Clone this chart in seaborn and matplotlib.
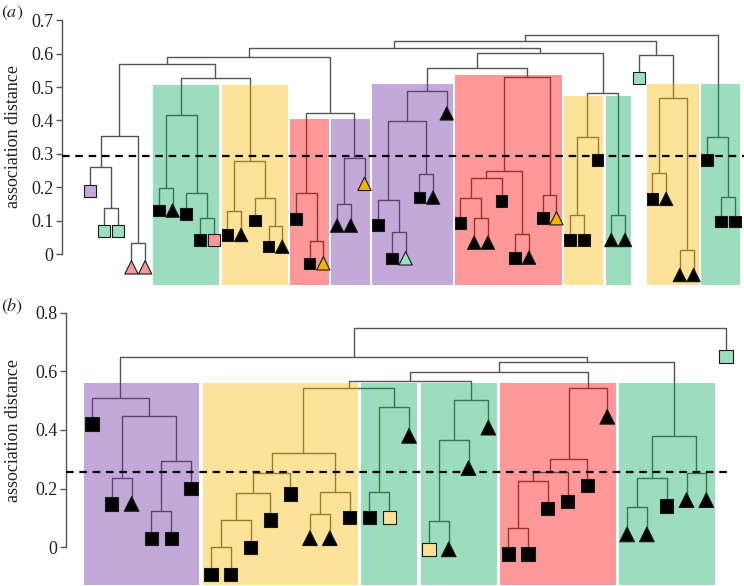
import numpy as np
import pandas as pd
import matplotlib
matplotlib.use("Agg")
import matplotlib.pyplot as plt
from matplotlib.collections import LineCollection
from matplotlib.patches import Rectangle
import seaborn as sns

# ---- panel (a) ----
# hclust-style merge table: negative = leaf number (display order), positive = earlier row
merge_a = [(-2, -3), (-1, 1), (-4, -5), (2, 3), (-6, -7), (-9, -10), (-8, 6), (5, 7),
           (-11, -12), (-14, -15), (-13, 10), (9, 11), (8, 12), (4, 13), (-17, -18),
           (-16, 15), (-19, -20), (17, -21), (16, 18), (14, 19), (-23, -24), (-22, 21),
           (-25, -26), (22, 23), (24, -27), (-29, -30), (-28, 26), (27, -31), (-32, -33),
           (28, 29), (-34, -35), (30, 31), (25, 32), (-36, -37), (34, -38), (-39, -40),
           (35, 36), (33, 37), (20, 38), (-42, -43), (-44, -45), (40, 41), (-41, 42),
           (39, 43), (-47, -48), (-46, 45), (44, 46)]
height_a = [0.137, 0.261, 0.032, 0.353, 0.197, 0.109, 0.182, 0.416,
            0.129, 0.085, 0.169, 0.278, 0.526, 0.568, 0.040,
            0.182, 0.149, 0.286, 0.421, 0.591, 0.065, 0.162,
            0.240, 0.399, 0.489, 0.107, 0.169, 0.229, 0.060,
            0.249, 0.177, 0.531, 0.556, 0.117, 0.349, 0.117,
            0.483, 0.603, 0.616, 0.243, 0.012, 0.468, 0.596,
            0.638, 0.172, 0.351, 0.656]
leaf_y_a = [0.189, 0.069, 0.069, -0.04, -0.04, 0.13, 0.13, 0.12, 0.042, 0.042,
            0.057, 0.057, 0.10, 0.022, 0.022, 0.104, -0.028, -0.028, 0.085, 0.085,
            0.21, 0.087, -0.013, -0.013, 0.169, 0.169, 0.421, 0.092, 0.034, 0.034,
            0.159, -0.011, -0.011, 0.107, 0.107, 0.042, 0.042, 0.281, 0.042, 0.042,
            0.526, 0.165, 0.165, -0.063, -0.063, 0.281, 0.097, 0.097]
shape_a = list("sss^^" "s^sss" "s^ss^" "ss^^^" "^ss^s" "^^s^^" "ss^s^" "sss^^" "ss^^^" "sss")
col_a = list("pggrr" "kkkkr" "kkkkk" "kkokk" "okkgk" "kkkkk" "kkkko" "kkkkk" "gkkkk" "kkk")
# clusters: first leaf, last leaf, top, colour
clusters_a = [(6, 10, 0.506, "g"), (11, 15, 0.506, "y"), (16, 18, 0.404, "r"),
              (19, 21, 0.404, "p"), (22, 27, 0.509, "p"), (28, 35, 0.535, "r"),
              (36, 38, 0.472, "y"), (39, 40, 0.472, "g"), (42, 45, 0.508, "y"),
              (46, 48, 0.508, "g")]
cut_a = 0.293

# ---- panel (b) ----
merge_b = [(-2, -3), (-4, -5), (2, -6), (1, 3), (-1, 4), (-7, -8), (6, -9), (7, -10),
           (8, -11), (-12, -13), (10, -14), (9, 11), (-15, -16), (13, -17), (12, 14),
           (-18, -19), (16, -20), (17, -21), (15, 18), (-22, -23), (20, -24), (21, -25),
           (22, -26), (23, -27), (19, 24), (-28, -29), (26, -30), (-31, -32), (27, 28),
           (25, 29), (5, 30), (31, -33)]
height_b = [0.2375, 0.125, 0.295, 0.449, 0.510, 0.0, 0.093, 0.184,
            0.255, 0.114, 0.189, 0.323, 0.190, 0.480, 0.542,
            0.090, 0.366, 0.502, 0.568, 0.067, 0.227, 0.258,
            0.300, 0.542, 0.599, 0.139, 0.2375, 0.255, 0.380,
            0.633, 0.650, 0.749]
leaf_y_b = [0.42, 0.148, 0.148, 0.03, 0.03, 0.2, -0.092, -0.092, 0.0, 0.093,
            0.182, 0.031, 0.031, 0.102, 0.101, 0.101, 0.38, -0.007, -0.007, 0.27,
            0.408, -0.023, -0.023, 0.132, 0.156, 0.21, 0.445, 0.044, 0.044, 0.141,
            0.161, 0.161, 0.65]
shape_b = list("ss^ss" "sssss" "s^^ss" "s^s^^" "^ssss" "s^^^s" "^^s")
col_b = list("kkkkk" "kkkkk" "kkkkk" "ykykk" "kkkkk" "kkkkk" "kkg")
clusters_b = [(1, 6, 0.559, "p"), (7, 14, 0.559, "y"), (15, 17, 0.559, "g"),
              (18, 21, 0.559, "g"), (22, 27, 0.559, "r"), (28, 32, 0.559, "g")]
cut_b = 0.258

# marker fills and cluster tints (tints drawn with alpha over the grey tree)
marker_col = {"k": "black", "p": "#c4aad9", "g": "#9cdfbd", "r": "#f59a9a",
              "o": "#f0b400", "y": "#fde396"}
rect_col = {"g": "#05ac5c", "y": "#fcbb00", "r": "#ff0000", "p": "#6b2aa2"}


def tree_segments(merge, heights, leaf_y):
    node_x = []
    segs = []

    def pos(ref):
        if ref < 0:
            return -ref, leaf_y[-ref - 1]
        return node_x[ref - 1], heights[ref - 1]

    for (a, b), h in zip(merge, heights):
        xa, ya = pos(a)
        xb, yb = pos(b)
        segs.append([(xa, ya), (xa, h), (xb, h), (xb, yb)])
        node_x.append((xa + xb) / 2)
    return segs


def draw_panel(ax, merge, heights, leaf_y, shapes, cols, clusters, cut, ybot,
               cut_end, sq_size, tri_size):
    lc = LineCollection(tree_segments(merge, heights, leaf_y), colors="#555555",
                        linewidths=1.0, zorder=1)
    ax.add_collection(lc)

    for first, last, top, c in clusters:
        ax.add_patch(Rectangle((first - 0.42, ybot), last - first + 0.84, top - ybot,
                               facecolor=rect_col[c], alpha=0.4, lw=0, zorder=2))

    ax.hlines(cut, ax.get_xlim()[0], cut_end, colors="black", linewidth=1.6,
              linestyles=(0, (3.4, 2.6)), zorder=3)

    df = pd.DataFrame({"x": np.arange(1, len(leaf_y) + 1), "y": leaf_y,
                       "shape": shapes, "col": cols})
    for shp, size in (("s", sq_size), ("^", tri_size)):
        sub = df[df["shape"] == shp]
        sns.scatterplot(data=sub, x="x", y="y", hue="col", palette=marker_col,
                        marker=shp, s=size ** 2, edgecolor="#1a1a1a", linewidth=0.8,
                        legend=False, ax=ax, zorder=4)
    ax.set_xlabel("")
    ax.set_ylabel("")


sns.set_theme(style="ticks")
plt.rcParams["font.family"] = ["Liberation Serif", "DejaVu Serif"]
plt.rcParams["mathtext.fontset"] = "stix"

fig = plt.figure(figsize=(7.44, 5.86), dpi=100)

# panel (a) axes: leaf spacing 13.71 px, first leaf at 90.3 px
ax_a = fig.add_axes([62 / 744, 1 - 286 / 586, 682 / 744, 286 / 586])
ax_a.set_xlim(-1.064, 48.68)
ax_a.set_ylim(-0.0958, 0.7605)
draw_panel(ax_a, merge_a, height_a, leaf_y_a, shape_a, col_a, clusters_a, cut_a,
           -0.093, 48.68, 8.4, 9.6)
ax_a.set_yticks([0, 0.1, 0.2, 0.3, 0.4, 0.5, 0.6, 0.7])
ax_a.set_yticklabels(["0", "0.1", "0.2", "0.3", "0.4", "0.5", "0.6", "0.7"])
ax_a.spines["left"].set_bounds(0, 0.7)

# panel (b) axes: leaf spacing 19.82 px, first leaf at 92 px
ax_b = fig.add_axes([65.7 / 744, 0, 678.3 / 744, 288 / 586])
ax_b.set_xlim(-0.327, 33.9)
ax_b.set_ylim(-0.132, 0.85)
draw_panel(ax_b, merge_b, height_b, leaf_y_b, shape_b, col_b, clusters_b, cut_b,
           -0.128, 33.3, 9.6, 10.6)
ax_b.set_yticks([0, 0.2, 0.4, 0.6, 0.8])
ax_b.set_yticklabels(["0", "0.2", "0.4", "0.6", "0.8"])
ax_b.spines["left"].set_bounds(0, 0.8)

for ax in (ax_a, ax_b):
    for side in ("top", "right", "bottom"):
        ax.spines[side].set_visible(False)
    ax.spines["left"].set_color("#555555")
    ax.spines["left"].set_linewidth(1.0)
    ax.set_xticks([])
    ax.tick_params(axis="y", length=4, width=1.0, color="#555555", labelsize=13,
                   pad=2, labelcolor="#222222")
    ax.patch.set_alpha(0)

fig.text(13.5 / 744, 1 - 137 / 586, "association distance", rotation=90,
         ha="center", va="center", fontsize=13, color="#222222")
fig.text(13.5 / 744, 1 - 431 / 586, "association distance", rotation=90,
         ha="center", va="center", fontsize=13, color="#222222")
fig.text(1 / 744, 1 - 13 / 586, r"$(\mathit{a})$", ha="left", va="center",
         fontsize=13, color="#222222")
fig.text(1 / 744, 1 - 306 / 586, r"$(\mathit{b})$", ha="left", va="center",
         fontsize=13, color="#222222")

fig.savefig("out.png", dpi=100)
